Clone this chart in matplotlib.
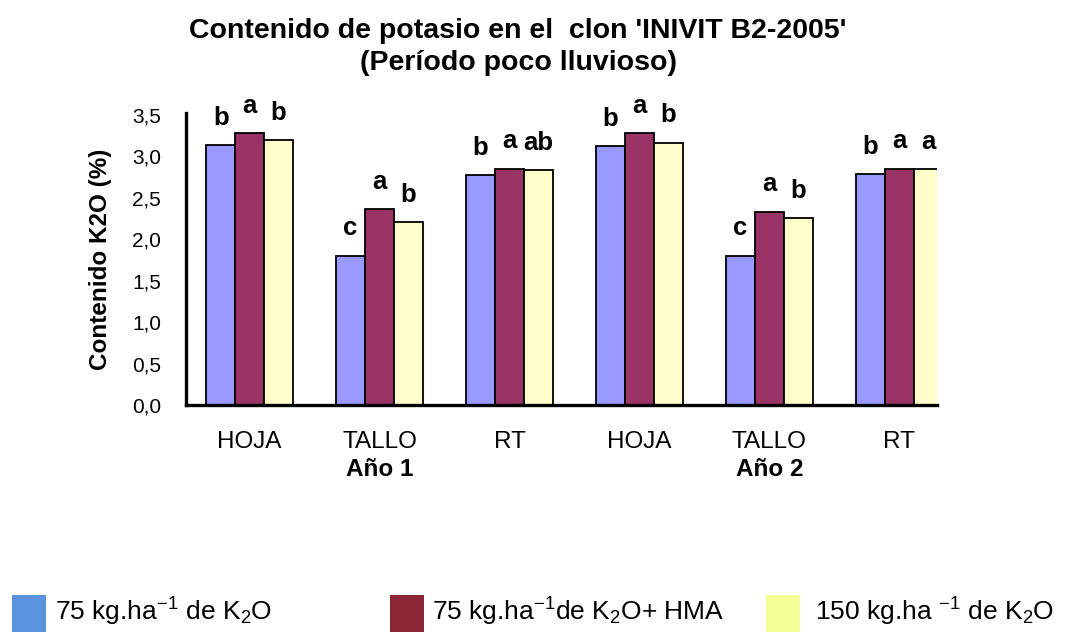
import matplotlib
matplotlib.use("Agg")
import matplotlib.pyplot as plt
import numpy as np
from matplotlib.patches import Rectangle
from matplotlib.transforms import Bbox, blended_transform_factory

plt.rcParams['font.family'] = ['Liberation Sans', 'DejaVu Sans']
plt.rcParams['mathtext.fontset'] = 'custom'
plt.rcParams['mathtext.rm'] = 'Liberation Sans'
plt.rcParams['mathtext.default'] = 'regular'

categories = ["HOJA", "TALLO", "RT", "HOJA", "TALLO", "RT"]
years = ["Año 1", "Año 2"]
series_names = [r"75 kg.ha$^{-1}$ de K$_2$O",
                r"75 kg.ha$^{-1}$de K$_2$O+ HMA",
                r"150 kg.ha $^{-1}$ de K$_2$O"]
k75 = [3.13, 1.80, 2.77, 3.12, 1.80, 2.78]
k75_hma = [3.28, 2.36, 2.85, 3.28, 2.33, 2.85]
k150 = [3.19, 2.20, 2.83, 3.16, 2.25, 2.84]
letters_k75 = ["b", "c", "b", "b", "c", "b"]
letters_k75_hma = ["a", "a", "a", "a", "a", "a"]
letters_k150 = ["b", "b", "ab", "b", "b", "a"]
yticks = [0.0, 0.5, 1.0, 1.5, 2.0, 2.5, 3.0, 3.5]

bar_colors = ["#9999FF", "#993366", "#FFFFCC"]
legend_colors = ["#5B93DE", "#8C2636", "#F4FF98"]

W, H = 1066, 632
fig = plt.figure(figsize=(W / 100, H / 100), dpi=100)
ax = fig.add_axes([186 / W, 1 - 405 / H, (937 - 186) / W, (405 - 113) / H])

x = np.arange(len(categories))
bw = 0.223
series = [k75, k75_hma, k150]
letters = [letters_k75, letters_k75_hma, letters_k150]
for i, (vals, col, lets) in enumerate(zip(series, bar_colors, letters)):
    xs = x + (i - 1) * bw
    ax.bar(xs, vals, width=bw, color=col, edgecolor="black", linewidth=1.3, zorder=2)
    for xi, v, l in zip(xs, vals, lets):
        ax.text(xi, v + 0.33, l, ha="center", va="center", fontsize=18.5,
                fontweight="bold", clip_on=False)

ax.set_xlim(-0.49, 5.29)
ax.set_ylim(0, 3.52)
ax.set_yticks(yticks)
ax.set_yticklabels([f"{t:.1f}".replace(".", ",") for t in yticks], fontsize=15)
ax.set_xticks(x)
ax.set_xticklabels(categories, fontsize=17.5)
ax.tick_params(axis="y", length=0, pad=18)
ax.tick_params(axis="x", length=0, pad=19)
for s in ["top", "right"]:
    ax.spines[s].set_visible(False)
ax.spines["left"].set_linewidth(2.4)
ax.spines["bottom"].set_linewidth(2.4)

ax.set_ylabel("Contenido K2O (%)", fontsize=17.5, fontweight="bold", va="center")
ax.yaxis.set_label_coords(-(186 - 101) / (937 - 186), 0.5)

trans = blended_transform_factory(ax.transData, fig.transFigure)
clip = Bbox.from_extents(0, H - 480, W, H)
for xi, yr in zip([1, 4], years):
    t = ax.text(xi, 1 - 469 / H, yr, transform=trans, ha="center", va="center",
                fontsize=17.5, fontweight="bold")
    t.set_clip_on(True)
    t.set_clip_box(clip)

fig.text(518 / W, 1 - 31 / H, "Contenido de potasio en el  clon 'INIVIT B2-2005'",
         ha="center", va="center", fontsize=20.5, fontweight="bold")
fig.text(518 / W, 1 - 63 / H, "(Período poco lluvioso)",
         ha="center", va="center", fontsize=20.5, fontweight="bold")

sq_x = [12, 390, 766]
txt_x = [55, 432, 815]
for sx, tx, col, name in zip(sq_x, txt_x, legend_colors, series_names):
    fig.patches.append(Rectangle((sx / W, 0), 34 / W, 37 / H, transform=fig.transFigure,
                                 facecolor=col, edgecolor="none"))
    fig.text(tx / W, 1 - 612 / H, name, ha="left", va="center", fontsize=19)

fig.savefig("out.png", dpi=100)
